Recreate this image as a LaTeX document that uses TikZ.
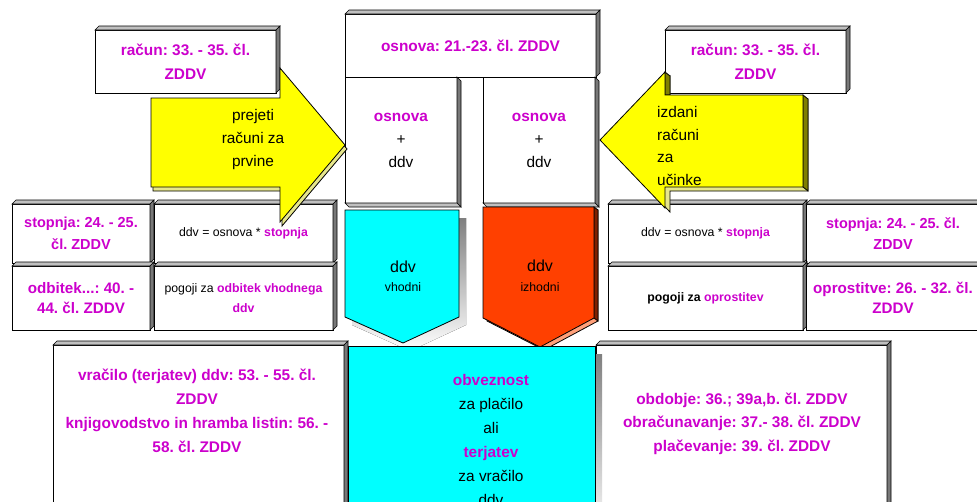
\documentclass[tikz,border=0pt]{standalone}
\usepackage{fontspec}
\setmainfont{Liberation Sans}
\usetikzlibrary{calc}
\frenchspacing
\definecolor{mag}{RGB}{204,0,204}
\definecolor{bevlight}{RGB}{192,192,192}
\definecolor{bevdark}{RGB}{120,120,120}
\definecolor{ayellow}{RGB}{255,255,0}
\definecolor{akhaki}{RGB}{230,230,140}
\definecolor{aolive}{RGB}{128,128,0}
\definecolor{vcyan}{RGB}{0,255,255}
\definecolor{vorange}{RGB}{255,64,0}
\definecolor{vsalmon}{RGB}{255,160,122}
\definecolor{vdark}{RGB}{128,32,0}
\definecolor{shade}{RGB}{128,128,128}
\newcommand\fbig{\fontsize{15.4}{24}\selectfont}
\newcommand\fmid{\fontsize{14.5}{21.5}\selectfont}
\newcommand\fodb{\fontsize{15.2}{20.5}\selectfont}
\newcommand\fsmall{\fontsize{12.3}{20}\selectfont}
\newcommand\mg[1]{\textcolor{mag}{\textbf{#1}}}
\newcommand\bevTR[1]{%
 \filldraw[bev, fill=bevlight] (#1.north west) -- ++(4,-4) -- ($(#1.north east)+(4,-4)$) -- (#1.north east) -- cycle;
 \filldraw[bev, fill=bevdark] (#1.north east) -- ++(4,-4) -- ($(#1.south east)+(4,-4)$) -- (#1.south east) -- cycle;}
\newcommand\bevBR[1]{%
 \filldraw[bev, fill=bevdark] (#1.north east) -- ++(4,4) -- ($(#1.south east)+(4,4)$) -- (#1.south east) -- cycle;
 \filldraw[bev, fill=bevlight] (#1.south west) -- ++(4,4) -- ($(#1.south east)+(4,4)$) -- (#1.south east) -- cycle;}
\tikzset{
 box/.style={draw=black, line width=1pt, fill=white, inner sep=0pt, outer sep=0pt, align=center},
 bev/.style={draw=black, line width=0.6pt},
 lbl/.style={text=mag, font=\fbig\bfseries, align=center, inner sep=0pt},
 txt/.style={text=black, font=\fbig, align=center, inner sep=0pt},
 shape3d/.style={draw=black, line width=0.8pt},
}
\begin{document}
\begin{tikzpicture}[x=1pt,y=-1pt]
\useasboundingbox (0,0) rectangle (977,501);
\fill[white] (0,0) rectangle (977,501);

% top boxes
\node[box, lbl, minimum width=181pt, minimum height=63pt] (tl) at (185.5,61.5) {račun: 33. - 35. čl.\\ZDDV};
\bevTR{tl}
\node[box, lbl, minimum width=181pt, minimum height=63pt] (tr) at (755.5,61.5) {račun: 33. - 35. čl.\\ZDDV};
\bevTR{tr}
\node[box, lbl, minimum width=251pt, minimum height=63pt] (top) at (470.5,45.5) {osnova: 21.-23. čl. ZDDV};
\bevTR{top}

% osnova + ddv
\node[box, txt, font=\fontsize{15.4}{23}\selectfont, minimum width=112pt, minimum height=126pt] (osL) at (401,140) {\mg{osnova}\\+\\ddv};
\bevBR{osL}
\node[box, txt, font=\fontsize{15.4}{23}\selectfont, minimum width=112pt, minimum height=126pt] (osR) at (539,140) {\mg{osnova}\\+\\ddv};
\bevBR{osR}

% pentagons
\fill[shade] (352,218) -- (466,218) -- (466,325) -- (410,351) -- (352,325) -- cycle;
\filldraw[shape3d, fill=vcyan] (345,210) -- (459,210) -- (459,317) -- (403,343) -- (345,317) -- cycle;
\node[txt, font=\fontsize{16}{19}\selectfont] (vinA) at (403,267) {ddv};
\node[txt, font=\fontsize{12.3}{15}\selectfont] (vinB) at (403,287) {vhodni};

\filldraw[shape3d, fill=vsalmon, shift={(4,3)}] (483,207) -- (594,207) -- (594,318) -- (540,347) -- (483,318) -- cycle;
\filldraw[shape3d, fill=vdark] (594,207) -- (598,210) -- (598,321) -- (594,318) -- cycle;
\filldraw[shape3d, fill=vorange] (483,207) -- (594,207) -- (594,318) -- (540,347) -- (483,318) -- cycle;
\node[txt, font=\fontsize{16}{19}\selectfont] (voutA) at (540,266) {ddv};
\node[txt, font=\fontsize{12.3}{15}\selectfont] (voutB) at (540,287) {izhodni};

% middle row left
\node[box, lbl, font=\fmid\bfseries, minimum width=138pt, minimum height=59pt] (st1) at (81,233.5) {stopnja: 24. - 25.\\čl. ZDDV};
\bevTR{st1}
\node[box, txt, font=\fsmall, minimum width=179pt, minimum height=59pt] (fo1) at (243.5,233.5) {ddv = osnova * \mg{stopnja}};
\bevTR{fo1}
\node[box, lbl, font=\fodb\bfseries, minimum width=138pt, minimum height=64pt] (od1) at (81,298) {odbitek...: 40. -\\44. čl. ZDDV};
\bevTR{od1}
\node[box, txt, font=\fsmall, minimum width=179pt, minimum height=64pt] (pg1) at (243.5,298) {pogoji za \mg{odbitek vhodnega}\\\mg{ddv}};
\bevTR{pg1}

% middle row right
\node[box, txt, font=\fsmall, minimum width=195pt, minimum height=59pt] (fo2) at (705.5,233.5) {ddv = osnova * \mg{stopnja}};
\bevTR{fo2}
\node[box, lbl, font=\fmid\bfseries, minimum width=174pt, minimum height=59pt] (st2) at (893,233.5) {stopnja: 24. - 25. čl.\\ZDDV};
\bevTR{st2}
\node[box, txt, font=\fsmall, minimum width=195pt, minimum height=64pt] (pg2) at (705.5,298) {\textbf{pogoji za} \mg{oprostitev}};
\bevTR{pg2}
\node[box, lbl, font=\fodb\bfseries, minimum width=174pt, minimum height=64pt] (op2) at (893,298) {oprostitve: 26. - 32. čl.\\ZDDV};
\bevTR{op2}

% bottom boxes
\node[box, minimum width=291pt, minimum height=190pt] (bl) at (198.5,440) {};
\bevTR{bl}
\node[lbl] (blt) at (197,411) {vračilo (terjatev) ddv: 53. - 55. čl.\\ZDDV\\knjigovodstvo in hramba listin: 56. -\\58. čl. ZDDV};
\node[box, minimum width=291pt, minimum height=190pt] (br) at (741.5,440) {};
\bevTR{br}
\node[lbl, font=\fontsize{15.4}{23.5}\selectfont\bfseries] (brt) at (742,423.5) {obdobje: 36.; 39a,b. čl. ZDDV\\obračunavanje: 37.- 38. čl. ZDDV\\plačevanje: 39. čl. ZDDV};
\fill[shade] (355,354) rectangle (602,540);
\node[box, fill=vcyan, minimum width=247pt, minimum height=190pt] (bc) at (471.5,441) {};
\node[txt] (bct) at (491,440) {\mg{obveznost}\\za plačilo\\ali\\\mg{terjatev}\\za vračilo\\ddv};

% left arrow
\filldraw[shape3d, fill=akhaki, shift={(2,4)}] (151,98) -- (280,98) -- (280,68) -- (345,145) -- (280,222) -- (280,187) -- (151,187) -- cycle;
\filldraw[shape3d, fill=ayellow] (151,98) -- (280,98) -- (280,68) -- (345,145) -- (280,222) -- (280,187) -- (151,187) -- cycle;
\node[txt, font=\fontsize{15.4}{23}\selectfont] (arrL) at (253,140) {prejeti\\računi za\\prvine};

% right arrow
\filldraw[shape3d, fill=akhaki, shift={(5,4)}] (803,95) -- (665,95) -- (665,72) -- (600,140) -- (665,208) -- (665,187) -- (803,187) -- cycle;
\filldraw[shape3d, fill=aolive] (803,95) -- (808,99) -- (808,191) -- (803,187) -- cycle;
\filldraw[shape3d, fill=aolive] (665,72) -- (670,76) -- (670,95) -- (665,95) -- cycle;
\filldraw[shape3d, fill=ayellow] (803,95) -- (665,95) -- (665,72) -- (600,140) -- (665,208) -- (665,187) -- (803,187) -- cycle;
\node[txt, font=\fontsize{15.4}{22.7}\selectfont, align=left, anchor=west] (arrR) at (657,146) {izdani\\računi\\za\\učinke};
\end{tikzpicture}
\end{document}
